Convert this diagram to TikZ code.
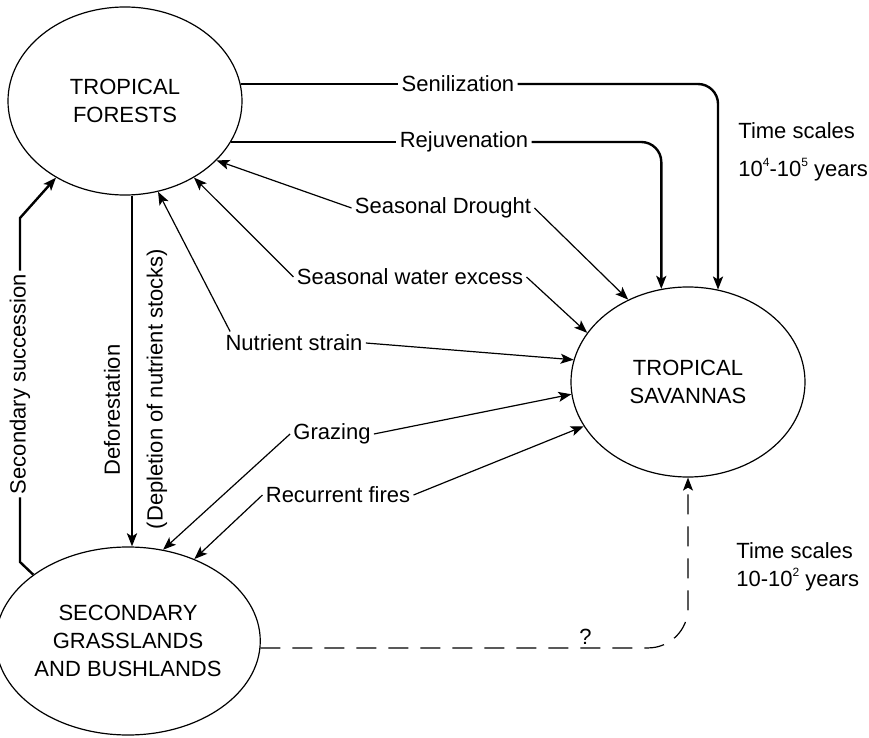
\documentclass[tikz,border=0pt]{standalone}
\usepackage{fontspec}
\setmainfont{Liberation Sans}
\usetikzlibrary{shapes.geometric,arrows.meta}
\newcommand\powr[1]{\raisebox{0.85ex}{\fontsize{6}{6}\selectfont #1}}

\begin{document}
\begin{tikzpicture}[x=0.5pt,y=-0.5pt,
  >={Stealth[length=6.5pt,width=5pt,inset=1.5pt]},
  biome/.style={ellipse,draw,line width=0.6pt,inner sep=0pt,align=center,font=\fontsize{11}{14}\selectfont},
  lbl/.style={inner sep=1.5pt,font=\fontsize{11}{13}\selectfont},
  weak/.style={line width=0.6pt},
  strong/.style={line width=1.2pt}]
\useasboundingbox (0,0) rectangle (869,738);
% the three ecosystems
\node (forest) [biome,minimum width=117pt,minimum height=94pt] at (125,101) {TROPICAL\\FORESTS};
\node (savanna) [biome,minimum width=117pt,minimum height=95pt] at (688,382) {TROPICAL\\SAVANNAS};
\node (grass) [biome,minimum width=116pt,minimum height=94pt] at (128,641) {SECONDARY\\GRASSLANDS\\AND BUSHLANDS};
% processes
\node (senil) [lbl] at (458,84) {Senilization};
\node (rejuv) [lbl] at (464,142) {Rejuvenation};
\node (drought) [lbl] at (443,208) {Seasonal Drought};
\node (water) [lbl] at (410,277) {Seasonal water excess};
\node (nutrient) [lbl] at (294,343) {Nutrient strain};
\node (grazing) [lbl] at (332,434) {Grazing};
\node (fires) [lbl] at (338,495) {Recurrent fires};
\node (defor) [lbl,rotate=90] at (112,410) {Deforestation};
\node (deplet) [lbl,rotate=90] at (157,389) {(Depletion of nutrient stocks)};
\node (succ) [lbl,rotate=90] at (20,384) {Secondary succession};
% time scales
\node (slow) [lbl,align=left,anchor=west] at (735,152) {Time scales\\[6pt]10\powr{4}-10\powr{5} years};
\node (fast) [lbl,align=left,anchor=west] at (733,567) {Time scales\\[1pt]10-10\powr{2} years};
\coordinate (kneeA) at (20,562);
\coordinate (kneeB) at (20,218);

\draw [strong] (forest.8 |- senil) -- (senil);
\draw [strong,rounded corners=10pt,->] (senil) -| (savanna.72);
\draw [strong] (forest.-21 |- rejuv) -- (rejuv);
\draw [strong,rounded corners=10pt,->] (rejuv) -| (savanna.106);
\draw [weak,->] (drought.west) -- (forest.-33);
\draw [weak,->] (drought.east) -- (savanna.126);
\draw [weak,->] (water.west) -- (forest.-48);
\draw [weak,->] (water.east) -- (savanna.154);
\draw [weak,->] ([xshift=4pt]nutrient.north west) -- (forest.-70);
\draw [weak,->] (nutrient.east) -- (savanna.169);
\draw [weak,->] (grazing.east) -- (savanna.186);
\draw [weak,->] (grazing.west) -- (grass.69);
\draw [weak,->] (fires.east) -- (savanna.203);
\draw [weak,->] (fires.west) -- (grass.51);
\draw [strong,->] ([xshift=3.5pt]forest.south) -- ([xshift=2pt]grass.north);
\draw [strong] (grass.145) -- (kneeA) -- (succ);
\draw [strong,->] (succ) -- (kneeB) -- (forest.228);
\draw [weak,dash pattern=on 10pt off 6pt,rounded corners=20pt,->] (grass.-3) -| node (qmark) [lbl,above,pos=0.38] {?} (savanna.south);
\end{tikzpicture}
\end{document}
